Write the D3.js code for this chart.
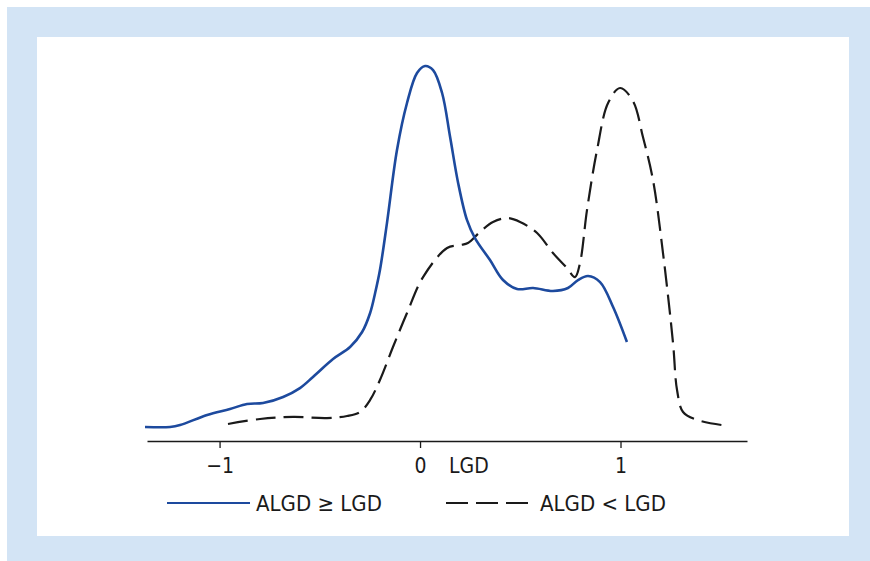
<!DOCTYPE html>
<html><head><meta charset="utf-8">
<script src="https://cdn.jsdelivr.net/npm/d3@7"></script>
<style>body{margin:0;background:#fff}svg{display:block}</style>
</head><body>
<svg id="c" width="870" height="561"></svg>
<script>
// Data (LGD value, density)
const blueX = [-1.372,-1.247,-1.197,-1.062,-0.948,-0.863,-0.783,-0.683,-0.599,-0.534,-0.434,-0.349,-0.289,-0.249,-0.224,-0.200,-0.165,-0.115,-0.065,-0.015,0.025,0.065,0.110,0.150,0.190,0.234,0.274,0.349,0.414,0.484,0.564,0.663,0.738,0.788,0.838,0.898,0.963,1.032];
const blueY = [0.076,0.076,0.086,0.141,0.173,0.200,0.205,0.238,0.286,0.346,0.443,0.508,0.589,0.692,0.800,0.924,1.178,1.573,1.827,1.989,2.027,2.005,1.881,1.643,1.395,1.195,1.097,0.978,0.870,0.822,0.827,0.811,0.827,0.870,0.892,0.859,0.724,0.535];
const dashX = [-0.958,-0.798,-0.633,-0.464,-0.364,-0.299,-0.249,-0.200,-0.135,-0.065,0.015,0.135,0.200,0.239,0.299,0.364,0.434,0.499,0.584,0.663,0.733,0.773,0.798,0.833,0.883,0.938,0.998,1.062,1.112,1.162,1.212,1.262,1.282,1.312,1.382,1.506];
const dashY = [0.092,0.119,0.130,0.124,0.135,0.157,0.222,0.330,0.508,0.692,0.886,1.043,1.059,1.070,1.130,1.184,1.205,1.184,1.124,1.016,0.935,0.886,0.962,1.249,1.573,1.827,1.908,1.838,1.643,1.411,1.016,0.530,0.276,0.157,0.114,0.086];
const tickValues = [-1, 0, 1];
const tickLabels = ["\u22121", "0", "1"];
const axisTitle = "LGD";
const seriesNames = ["ALGD \u2265 LGD", "ALGD < LGD"];

const svg = d3.select("#c");
const font = "'Liberation Sans Narrow','DejaVu Sans Condensed',sans-serif";
const blue = "#1d4a9e", dark = "#1a1a1a";

svg.append("rect").attr("x",7).attr("y",7).attr("width",863).attr("height",554).attr("fill","#d3e4f5");
svg.append("rect").attr("x",37).attr("y",37).attr("width",812).attr("height",499).attr("fill","#ffffff");

const x = d3.scaleLinear().domain([-1.362, 1.631]).range([147, 747]);
const y = d3.scaleLinear().domain([0, 2]).range([441, 71]);

const axis = d3.axisBottom(x).tickValues(tickValues).tickSizeInner(7).tickSizeOuter(0)
  .tickFormat((d,i)=>tickLabels[i]);
const g = svg.append("g").attr("transform","translate(0,441)").call(axis);
g.select(".domain").attr("stroke",dark).attr("stroke-width",1.3);
g.selectAll(".tick line").attr("stroke",dark).attr("stroke-width",1.3);
g.selectAll(".tick text").attr("font-family",font).attr("font-size",21).attr("fill",dark).attr("dy","0.71em").attr("y",17);
svg.append("text").attr("x",449).attr("y",473).attr("font-family",font).attr("font-size",21).attr("fill",dark).text(axisTitle);

const line = d3.line().x(d=>x(d[0])).y(d=>y(d[1])).curve(d3.curveCatmullRom.alpha(0.5));
svg.append("path").datum(dashX.map((v,i)=>[v,dashY[i]])).attr("d",line)
  .attr("fill","none").attr("stroke",dark).attr("stroke-width",2.2).attr("stroke-dasharray","20,8");
svg.append("path").datum(blueX.map((v,i)=>[v,blueY[i]])).attr("d",line)
  .attr("fill","none").attr("stroke",blue).attr("stroke-width",2.6);

// legend
svg.append("line").attr("x1",167).attr("x2",250).attr("y1",503).attr("y2",503).attr("stroke",blue).attr("stroke-width",2.2);
svg.append("text").attr("x",256).attr("y",511).attr("font-family",font).attr("font-size",22).attr("fill",dark).text(seriesNames[0]);
svg.append("line").attr("x1",446).attr("x2",528).attr("y1",503).attr("y2",503).attr("stroke",dark).attr("stroke-width",2.2).attr("stroke-dasharray","22,8");
svg.append("text").attr("x",540).attr("y",511).attr("font-family",font).attr("font-size",22).attr("fill",dark).text(seriesNames[1]);
</script>
</body></html>
